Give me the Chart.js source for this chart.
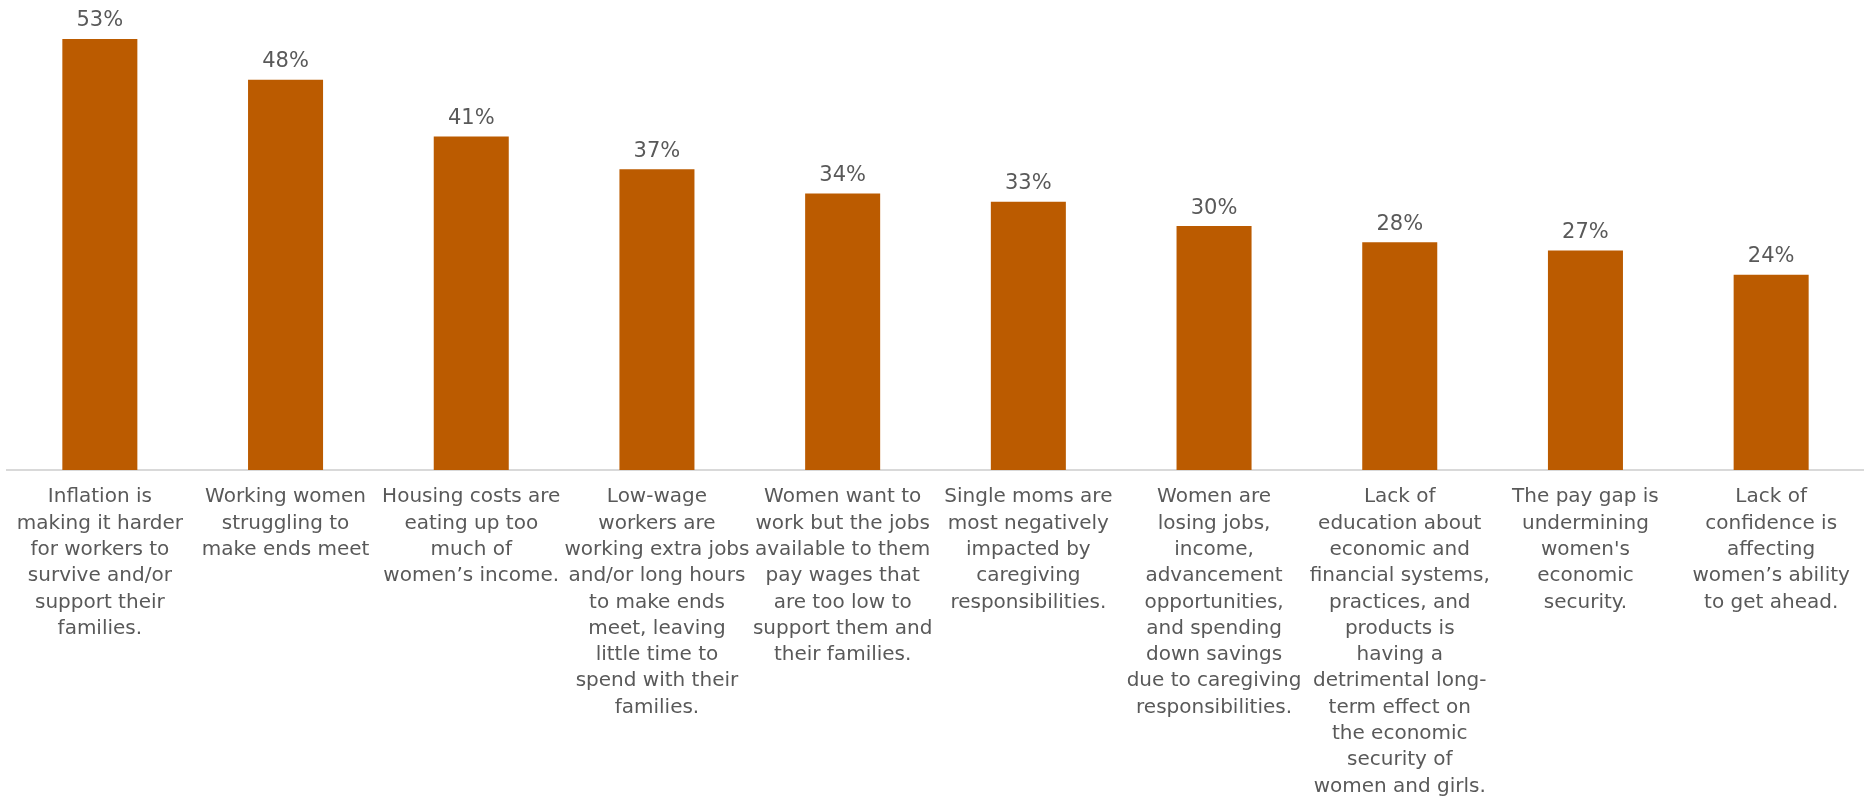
<!DOCTYPE html>
<html>
<head>
<meta charset="utf-8">
<script src="https://cdn.jsdelivr.net/npm/chart.js@4/dist/chart.umd.min.js"></script>
<style>
  body { margin: 0; background: #fff; }
  #wrap { width: 1864px; height: 797px; position: relative; }
</style>
</head>
<body>
<div id="wrap"><canvas id="issuesChart"></canvas></div>
<script>
// categories, wrapped the same way as the original axis labels
const categories = [
  ["Inflation is", "making it harder", "for workers to", "survive and/or", "support their", "families."],
  ["Working women", "struggling to", "make ends meet"],
  ["Housing costs are", "eating up too", "much of", "women\u2019s income."],
  ["Low-wage", "workers are", "working extra jobs", "and/or long hours", "to make ends", "meet, leaving", "little time to", "spend with their", "families."],
  ["Women want to", "work but the jobs", "available to them", "pay wages that", "are too low to", "support them and", "their families."],
  ["Single moms are", "most negatively", "impacted by", "caregiving", "responsibilities."],
  ["Women are", "losing jobs,", "income,", "advancement", "opportunities,", "and spending", "down savings", "due to caregiving", "responsibilities."],
  ["Lack of", "education about", "economic and", "financial systems,", "practices, and", "products is", "having a", "detrimental long-", "term effect on", "the economic", "security of", "women and girls."],
  ["The pay gap is", "undermining", "women's", "economic", "security."],
  ["Lack of", "confidence is", "affecting", "women\u2019s ability", "to get ahead."]
];

// percent of respondents
const percents = [53, 48, 41, 37, 34, 33, 30, 28, 27, 24];

const barColor = "#bb5b00";
const textColor = "#595959";

/* value labels above each bar */
const valueLabels = {
  id: "valueLabels",
  afterDatasetsDraw(chart) {
    const ctx = chart.ctx;
    const meta = chart.getDatasetMeta(0);
    ctx.save();
    ctx.font = "21px 'DejaVu Sans'";
    ctx.fillStyle = textColor;
    ctx.textAlign = "center";
    ctx.textBaseline = "middle";
    meta.data.forEach((bar, i) => {
      ctx.fillText(percents[i] + "%", bar.x, bar.y - 18);
    });
    ctx.restore();
  }
};

new Chart(document.getElementById("issuesChart"), {
  type: "bar",
  data: {
    labels: categories,
    datasets: [{
      data: percents,
      backgroundColor: barColor,
      categoryPercentage: 1,
      barPercentage: 0.404
    }]
  },
  options: {
    responsive: true,
    maintainAspectRatio: false,
    animation: false,
    layout: { padding: { left: 7, right: 0, top: 0, bottom: 0 } },
    plugins: {
      legend: { display: false },
      tooltip: { enabled: false }
    },
    scales: {
      x: {
        grid: { display: false, drawTicks: false },
        border: { color: "#d9d9d9", width: 2 },
        ticks: {
          autoSkip: false,
          maxRotation: 0,
          minRotation: 0,
          padding: 14,
          color: textColor,
          font: { family: "'DejaVu Sans'", size: 20, lineHeight: "26.3px" }
        },
        afterFit(scale) {
          scale.height = 327;
        }
      },
      y: {
        display: false,
        min: 0,
        max: 57.8
      }
    }
  },
  plugins: [valueLabels]
});
</script>
</body>
</html>
